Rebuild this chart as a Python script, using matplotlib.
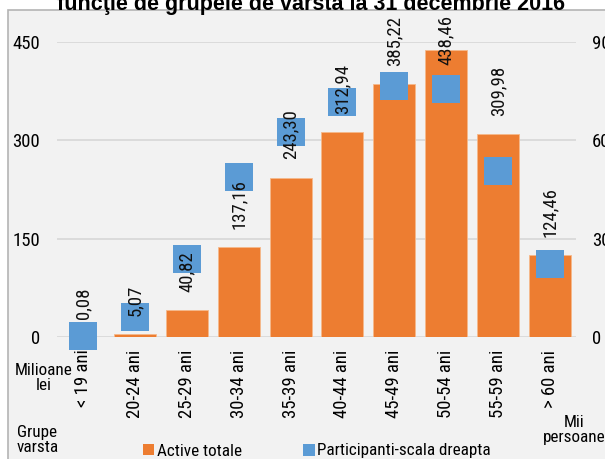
import matplotlib
matplotlib.use("Agg")
import matplotlib.pyplot as plt
from matplotlib.patches import Rectangle, Patch
from matplotlib.lines import Line2D
import numpy as np

# date
grupe = ['< 19 ani', '20-24 ani', '25-29 ani', '30-34 ani', '35-39 ani',
         '40-44 ani', '45-49 ani', '50-54 ani', '55-59 ani', '> 60 ani']
active = [0.08, 5.07, 40.82, 137.16, 243.30, 312.94, 385.22, 438.46, 309.98, 124.46]
participanti = [3, 61, 238, 488, 624, 717, 767, 757, 505, 224]

ORANGE = '#ED7D31'
BLUE = '#5B9BD5'
plt.rcParams['font.family'] = ['Roboto Condensed', 'DejaVu Sans']
plt.rcParams['font.size'] = 13.5
TXT = 12.3

fig = plt.figure(figsize=(6.05, 4.59), dpi=100)
fig.patch.set_facecolor('white')

# chenarul graficului (taiat in dreapta si jos)
fig.patches.append(Rectangle((8 / 605, -0.1), 1.2, 1.1 - 10 / 459,
                             transform=fig.transFigure, facecolor='#F2F2F2',
                             edgecolor='#B4B4B4', linewidth=1.2, zorder=-10))

ax = fig.add_axes([57 / 605, 1 - 337 / 459, 519 / 605, 295 / 459])
ax.set_facecolor('none')
x = np.arange(len(grupe))

ax.bar(x, active, width=0.81, color=ORANGE, edgecolor='#F6B98A', linewidth=0.6, zorder=2)
ax.set_xlim(-0.5, len(grupe) - 0.5)
ax.set_ylim(0, 450)
ax.set_yticks([0, 150, 300, 450])
ax.grid(axis='y', color='#D9D9D9', linewidth=1.3, zorder=0)
ax.set_axisbelow(True)
for s in ax.spines.values():
    s.set_visible(False)
ax.tick_params(axis='y', length=0, pad=12)
ax.tick_params(axis='x', length=0, pad=9)
ax.set_xticks(x)
ax.set_xticklabels(grupe, rotation=90, va='top', ha='center')

ax2 = ax.twinx()
ax2.set_ylim(0, 900)
ax2.set_yticks([0, 300, 600, 900])
for s in ax2.spines.values():
    s.set_visible(False)
ax2.tick_params(axis='y', length=0, pad=11.5)
ax2.plot(x, participanti, linestyle='none', marker='s', markersize=20,
         color=BLUE, markeredgewidth=0, clip_on=False, zorder=3)

# etichete valori
for xi, v in zip(x, active):
    off = 13 if v < 420 else -11
    ax2.annotate(f'{v:.2f}'.replace('.', ','), xy=(xi, v * 2), xytext=(0, off),
                 textcoords='offset points', rotation=90, ha='center', va='bottom',
                 color='#111111', zorder=5, annotation_clip=False)

fig.text(311 / 605, 1 - 10 / 459, 'funcţie de grupele de varsta la 31 decembrie 2016',
         ha='center', va='baseline', fontsize=15.5, fontweight='bold',
         family=['Liberation Sans', 'DejaVu Sans'])

fig.text(44 / 605, 1 - 378 / 459, 'Milioane\nlei', ha='center', va='center',
         linespacing=1.05, fontsize=TXT)
fig.text(17 / 605, 1 - 440 / 459, 'Grupe\nvarsta', ha='left', va='center',
         linespacing=1.05, fontsize=TXT)
fig.text(574 / 605, 1 - 430 / 459, 'Mii\npersoane', ha='center', va='center',
         linespacing=1.05, fontsize=TXT)

handles = [Patch(facecolor=ORANGE, edgecolor='none'),
           Line2D([], [], linestyle='none', marker='s', markersize=9,
                  color=BLUE, markeredgewidth=0)]
fig.legend(handles, ['Active totale', 'Participanti-scala dreapta'],
           loc='center', bbox_to_anchor=(317 / 605, 1 - 451 / 459), ncol=2,
           frameon=False, handlelength=0.6, handleheight=0.6, handletextpad=0.2,
           columnspacing=3.6, borderaxespad=0, borderpad=0, fontsize=TXT)

fig.savefig('out.png', dpi=100)
